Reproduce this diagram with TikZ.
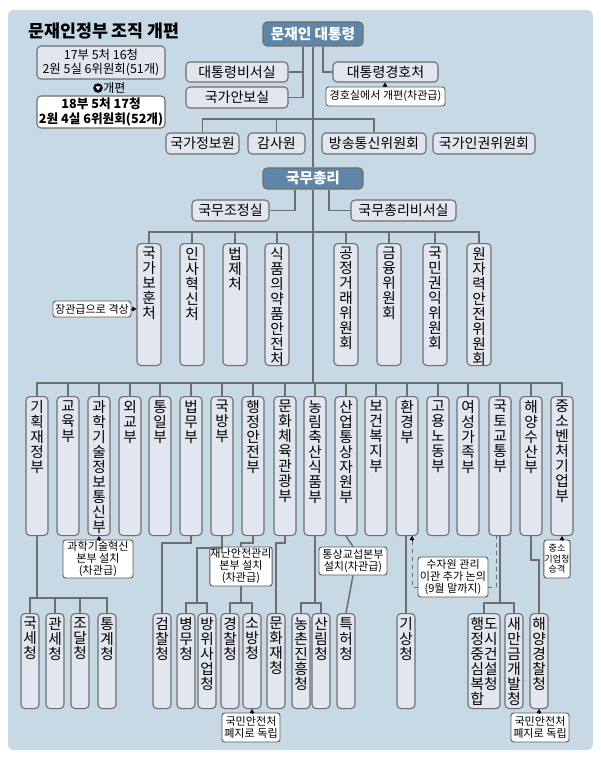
\documentclass[tikz,border=0pt]{standalone}
\usepackage{fontspec}
\setmainfont{Noto Sans CJK KR}
\usetikzlibrary{arrows.meta}
\definecolor{bg}{HTML}{C8D9E6}
\definecolor{bx}{HTML}{E2E6EE}
\definecolor{dk}{HTML}{5E86A8}
\definecolor{ln}{HTML}{6E6E6E}
\tikzset{
 box/.style={draw=ln, fill=bx, rounded corners=3pt, line width=0.8pt, inner sep=0pt, align=center, font=\fontsize{10.5}{12}\selectfont},
 wbox/.style={box, fill=white},
 dbox/.style={box, fill=dk, text=white, font=\bfseries\fontsize{11}{12}\selectfont},
 vt/.style={align=center, font=\fontsize{11}{11.25}\selectfont, inner sep=0pt},
 note/.style={draw=ln!80!black, fill=white, rounded corners=2pt, line width=0.7pt, align=center, font=\fontsize{8.3}{9}\selectfont, inner sep=0.5pt},
 conn/.style={draw=ln, line width=1.1pt},
 tip/.style={-{Triangle[length=3pt,width=3.5pt]}, draw=black, line width=0.5pt},
 dashy/.style={draw=ln, dashed, line width=0.6pt},
}
\newcommand\hb[7][box]{\node[#1,minimum width={(#5-#3)*0.75pt},minimum height={(#6-#4)*0.75pt}] (#2) at ({(#3+#5)/2},{(#4+#6)/2}) {#7};}
\newcommand\tb[7][vt]{\node[box,minimum width={#6*0.75pt},minimum height={(#5-#4)*0.75pt},anchor=north] (#2) at (#3,#4) {};
 \node[#1,anchor=north] at ([yshift=-3pt]#2.north) {#7};}
\begin{document}
\begin{tikzpicture}[x=0.75pt,y=-0.75pt]
\useasboundingbox (0,0) rectangle (600,759);
\fill[white] (0,0) rectangle (600,759);
\fill[bg, rounded corners=4pt] (8,10) rectangle (593,750);
% helper coordinates
\coordinate (xa) at (303,0); \coordinate (xb) at (323,0); \coordinate (xc) at (385,0);
\coordinate (xd) at (295,0); \coordinate (xe) at (329,0); \coordinate (x197) at (197,0);
\coordinate (x412) at (412,0); \coordinate (x496) at (496,0);
\coordinate (y119) at (0,119); \coordinate (y232) at (0,232); \coordinate (y383) at (0,383);
\coordinate (y598) at (0,598); \coordinate (y543) at (0,543); \coordinate (y548) at (0,548);
\coordinate (y603) at (0,603); \coordinate (y560) at (0,560); \coordinate (y587) at (0,587);

% top left
\node[font=\bfseries\fontsize{13}{14}\selectfont, anchor=west, inner sep=0pt] (title) at (28,31) {문재인정부 조직 개편};
\hb[box,font=\fontsize{9.3}{10.5}\selectfont]{old}{37}{46}{165}{79}{17부 5처 16청\\2원 5실 6위원회(51개)}
\fill (98,88) circle (3.6pt);
\fill[white] (95.5,86.5) -- (100.5,86.5) -- (98,90.5) -- cycle;
\node[anchor=west, inner sep=0pt, font=\fontsize{9}{10}\selectfont] (gp) at (103,88) {개편};
\hb[wbox,font=\bfseries\fontsize{9.5}{11}\selectfont]{new}{37}{96}{165}{128}{18부 5처 17청\\2원 4실 6위원회(52개)}

% president level
\hb[dbox]{pres}{263}{22}{363}{46}{문재인 대통령}
\hb{bis}{186}{62}{288}{82}{대통령비서실}
\hb{anbo}{186}{87}{288}{108}{국가안보실}
\hb{gyeong}{333}{62}{438}{82}{대통령경호처}
\hb[note]{gnote}{326}{87}{445}{106}{경호실에서 개편(차관급)}
\hb{nis}{166}{133}{239}{154}{국가정보원}
\hb{bai}{248}{133}{305}{154}{감사원}
\hb{kcc}{322}{133}{426}{154}{방송통신위원회}
\hb{nhrc}{433}{133}{535}{154}{국가인권위원회}
\hb[dbox]{pm}{263}{168}{363}{189}{국무총리}

\draw[conn] (pres.south) -- (pm.north);
\draw[conn] (pres.south -| xa) |- (anbo.east);
\draw[conn] (bis.east) -- (bis.east -| xa);
\draw[conn] (pres.south -| xb) |- (gyeong.west);
\draw[tip] (gnote.north -| xc) -- (gyeong.south -| xc);
\draw[conn] (nis.north) |- (kcc.north |- y119) -- (kcc.north);
\draw[conn] (bai.north) -- (bai.north |- y119);

% PM level
\hb{opc}{192}{200}{269}{221}{국무조정실}
\hb{pmsec}{351}{200}{456}{221}{국무총리비서실}
\draw[conn] (pm.south -| xd) |- (opc.east);
\draw[conn] (pm.south -| xe) |- (pmsec.west);

\tb{c1}{149}{243}{365}{24}{국\\가\\보\\훈\\처}
\tb{c2}{192}{243}{365}{24}{인\\사\\혁\\신\\처}
\tb{c3}{235}{243}{365}{24}{법\\제\\처}
\tb{c4}{277}{243}{365}{24}{식\\품\\의\\약\\품\\안\\전\\처}
\tb{c5}{346}{243}{365}{24}{공\\정\\거\\래\\위\\원\\회}
\tb{c6}{389}{243}{365}{24}{금\\융\\위\\원\\회}
\tb{c7}{435}{243}{365}{24}{국\\민\\권\\익\\위\\원\\회}
\tb{c8}{479}{243}{365}{24}{원\\자\\력\\안\\전\\위\\원\\회}
\draw[conn] (c1.north) |- (c8.north |- y232) -- (c8.north);
\foreach \n in {c2,c3,c4,c5,c6,c7} \draw[conn] (\n.north) -- (\n.north |- y232);
\hb[note]{upg}{53}{301}{131}{317}{장관급으로 격상}
\draw[tip] (upg.east) -- (c1.west |- upg.east);

\draw[conn] (pm.south) -- (pm.south |- y383);

% ministries
\tb{b1}{37}{396}{535}{22}{기\\획\\재\\정\\부}
\tb{b2}{68}{396}{535}{22}{교\\육\\부}
\tb{b3}{99}{396}{535}{22}{과\\학\\기\\술\\정\\보\\통\\신\\부}
\tb{b4}{130}{396}{535}{22}{외\\교\\부}
\tb{b5}{160}{396}{535}{22}{통\\일\\부}
\tb{b6}{191}{396}{535}{22}{법\\무\\부}
\tb{b7}{222}{396}{535}{22}{국\\방\\부}
\tb{b8}{253}{396}{535}{22}{행\\정\\안\\전\\부}
\tb{b9}{285}{396}{535}{22}{문\\화\\체\\육\\관\\광\\부}
\tb{b10}{315}{396}{535}{22}{농\\림\\축\\산\\식\\품\\부}
\tb{b11}{346}{396}{535}{22}{산\\업\\통\\상\\자\\원\\부}
\tb{b12}{376}{396}{535}{22}{보\\건\\복\\지\\부}
\tb{b13}{407}{396}{535}{22}{환\\경\\부}
\tb{b14}{438}{396}{535}{22}{고\\용\\노\\동\\부}
\tb{b15}{468}{396}{535}{22}{여\\성\\가\\족\\부}
\tb{b16}{500}{396}{535}{22}{국\\토\\교\\통\\부}
\tb{b17}{531}{396}{535}{22}{해\\양\\수\\산\\부}
\tb{b18}{562}{396}{535}{22}{중\\소\\벤\\처\\기\\업\\부}
\draw[conn] (b1.north) |- (b18.north |- y383) -- (b18.north);
\foreach \n in {b2,b3,b4,b5,b6,b7,b8,b9,b10,b11,b12,b13,b14,b15,b16,b17} \draw[conn] (\n.north) -- (\n.north |- y383);

% agencies
\tb{g1}{30}{613}{708}{18}{국\\세\\청}
\tb{g2}{55}{613}{708}{18}{관\\세\\청}
\tb{g3}{80}{613}{708}{18}{조\\달\\청}
\tb{g4}{107}{613}{708}{18}{통\\계\\청}
\tb{g5}{162}{613}{708}{18}{검\\찰\\청}
\tb{g6}{186}{613}{708}{18}{병\\무\\청}
\tb{g7}{207}{613}{708}{18}{방\\위\\사\\업\\청}
\tb{g8}{230}{613}{708}{18}{경\\찰\\청}
\tb{g9}{252}{613}{708}{18}{소\\방\\청}
\tb{g10}{276}{613}{708}{18}{문\\화\\재\\청}
\tb{g11}{301}{613}{708}{18}{농\\촌\\진\\흥\\청}
\tb{g12}{321}{613}{708}{18}{산\\림\\청}
\tb{g13}{346}{613}{708}{18}{특\\허\\청}
\tb{g14}{406}{613}{708}{18}{기\\상\\청}
\tb[vt,align=left]{g15}{484}{613}{708}{32}{행도\\정시\\중건\\심설\\복청\\합}
\tb{g16}{514}{613}{708}{18}{새\\만\\금\\개\\발\\청}
\tb{g17}{539}{613}{708}{18}{해\\양\\경\\찰\\청}

% notes
\hb[note]{n1}{63}{540}{133}{578}{과학기술혁신\\본부 설치\\(차관급)}
\hb[note]{n2}{210}{547}{272}{586}{재난안전관리\\본부 설치\\(차관급)}
\hb[note]{n3}{319}{547}{387}{575}{통상교섭본부\\설치(차관급)}
\hb[note]{n4}{418}{557}{488}{597}{수자원 관리\\이관 추가 논의\\(9월 말까지)}
\hb[note,font=\fontsize{6.8}{8}\selectfont]{n5}{545}{540}{569}{578}{중소\\기업청\\승격}
\hb[note]{n6}{222}{713}{280}{742}{국민안전처\\폐지로 독립}
\hb[note]{n7}{511}{713}{569}{742}{국민안전처\\폐지로 독립}

% lower connectors
\draw[tip] (n1.north -| b3.south) -- (b3.south);
\draw[conn] (b1.south) -- (b1.south |- y598);
\draw[conn] (g1.north) |- (g4.north |- y598) -- (g4.north);
\foreach \n in {g2,g3} \draw[conn] (\n.north) -- (\n.north |- y598);
\draw[conn] (b6.south) -- (b6.south |- y543) -| (g5.north);
\draw[conn] (b7.south) -- (b7.south |- y548) -| (x197 |- y603);
\draw[conn] (g6.north) |- (g7.north |- y603) -- (g7.north);
\draw[conn] (b8.south) -- (b8.south |- y543) -| (n2.north);
\draw[conn] (n2.south) -- (n2.south |- y603);
\draw[conn] (g8.north) |- (g9.north |- y603) -- (g9.north);
\draw[tip] (n6.north -| g9.south) -- (g9.south);
\draw[conn] (b9.south) -- (b9.south |- y543) -| (g10.north);
\draw[conn] (b10.south) -- (b10.south |- y603);
\draw[conn] (g11.north) |- (g12.north |- y603) -- (g12.north);
\draw[conn] (b11.south) -- (n3.north);
\draw[conn] (n3.south) -- (g13.north);
\draw[conn] (g14.north) -- (g14.north |- b13.south);
\draw[dashy] (n4.west |- y587) -| (b13.south -| x412);
\draw[tip] ([yshift=-4pt]b13.south -| x412) -- (b13.south -| x412);
\draw[dashy] (n4.east |- y587) -| (b16.south -| x496);
\draw[conn] (b16.south) -- (b16.south |- y603);
\draw[conn] (g15.north) |- (g16.north |- y603) -- (g16.north);
\draw[conn] (b17.south) -- (b17.south |- y560) -| (g17.north);
\draw[tip] (n7.north -| g17.south) -- (g17.south);
\draw[tip] (n5.north -| b18.south) -- (b18.south);
\end{tikzpicture}
\end{document}
